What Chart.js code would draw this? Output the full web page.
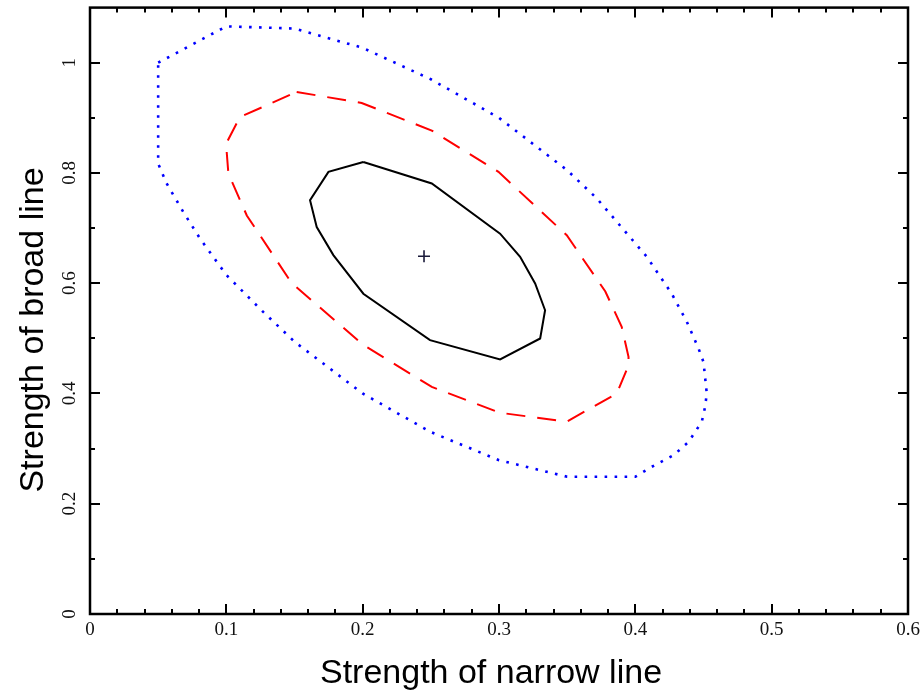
<!DOCTYPE html>
<html>
<head>
<meta charset="utf-8">
<script src="https://cdn.jsdelivr.net/npm/chart.js@4/dist/chart.umd.min.js"></script>
<style>
  html, body { margin: 0; padding: 0; background: #fff; }
  canvas { display: block; }
</style>
</head>
<body>
<canvas id="c" width="923" height="691"></canvas>
<script>
// Axis ticks and labels
const xTickValues = [0, 0.1, 0.2, 0.3, 0.4, 0.5, 0.6];
const xTickLabels = ['0', '0.1', '0.2', '0.3', '0.4', '0.5', '0.6'];
const yTickValues = [0, 0.2, 0.4, 0.6, 0.8, 1.0];
const yTickLabels = ['0', '0.2', '0.4', '0.6', '0.8', '1'];
const xTitle = 'Strength of narrow line';
const yTitle = 'Strength of broad line';

// Best-fit point
const bestX = [0.245];
const bestY = [0.649];

// Inner confidence contour (solid)
const innerX = [0.2005, 0.2507, 0.3008, 0.3155, 0.3265, 0.3338, 0.3302, 0.3008, 0.2494, 0.2005, 0.1785, 0.1663, 0.1614, 0.1749, 0.2005];
const innerY = [0.820, 0.781, 0.690, 0.648, 0.5995, 0.551, 0.4998, 0.4617, 0.4967, 0.581, 0.651, 0.702, 0.7506, 0.802, 0.820];

// Middle confidence contour (dashed)
const middleX = [0.1516, 0.1993, 0.2507, 0.2996, 0.3497, 0.378, 0.390, 0.395, 0.395, 0.3864, 0.3497, 0.3008, 0.2507, 0.2005, 0.148, 0.115, 0.1015, 0.0998, 0.110, 0.1516];
const middleY = [0.947, 0.927, 0.877, 0.802, 0.687, 0.585, 0.521, 0.4665, 0.451, 0.400, 0.349, 0.365, 0.412, 0.488, 0.600, 0.723, 0.799, 0.853, 0.9015, 0.947];

// Outer confidence contour (dotted)
const outerX = [0.050, 0.100, 0.150, 0.200, 0.250, 0.300, 0.350, 0.3717, 0.4084, 0.4267, 0.4378, 0.4463, 0.450, 0.4524, 0.4512, 0.4488, 0.439, 0.428, 0.412, 0.400, 0.350, 0.335, 0.300, 0.250, 0.200, 0.150, 0.127, 0.100, 0.0807, 0.0685, 0.0562, 0.050, 0.050];
const outerY = [1.000, 1.066, 1.062, 1.027, 0.970, 0.900, 0.805, 0.754, 0.648, 0.581, 0.530, 0.482, 0.457, 0.400, 0.376, 0.349, 0.312, 0.288, 0.267, 0.249, 0.249, 0.258, 0.279, 0.330, 0.400, 0.494, 0.548, 0.615, 0.681, 0.729, 0.781, 0.817, 1.000];

const toPoints = (xs, ys) => xs.map((v, i) => ({ x: v, y: ys[i] }));

const X_MIN = 0, X_MAX = 0.6, X_MINOR = 0.02;
const Y_MIN = 0, Y_MAX = 1.1, Y_MINOR = 0.1;

// Frame with inward major/minor ticks on all four sides, plus axis titles
const framePlugin = {
  id: 'frame',
  afterDraw(chart) {
    const { ctx, chartArea: a, scales: { x, y } } = chart;
    ctx.save();
    ctx.strokeStyle = '#000';
    ctx.lineWidth = 2;
    const isMajor = (v, list) => list.some(m => Math.abs(m - v) < 1e-6);

    ctx.beginPath();
    for (let i = 1; X_MIN + i * X_MINOR < X_MAX - 1e-6; i++) {
      const v = X_MIN + i * X_MINOR;
      const len = isMajor(v, xTickValues) ? 10 : 5;
      const px = Math.round(x.getPixelForValue(v));
      ctx.moveTo(px, a.bottom); ctx.lineTo(px, a.bottom - len);
      ctx.moveTo(px, a.top); ctx.lineTo(px, a.top + len);
    }
    for (let i = 1; Y_MIN + i * Y_MINOR < Y_MAX - 1e-6; i++) {
      const v = Y_MIN + i * Y_MINOR;
      const len = isMajor(v, yTickValues) ? 10 : 5;
      const py = Math.round(y.getPixelForValue(v));
      ctx.moveTo(a.left, py); ctx.lineTo(a.left + len, py);
      ctx.moveTo(a.right, py); ctx.lineTo(a.right - len, py);
    }
    ctx.stroke();

    ctx.lineWidth = 2.5;
    ctx.strokeRect(a.left, a.top, a.right - a.left, a.bottom - a.top);

    ctx.fillStyle = '#000';
    ctx.font = '34px "Liberation Sans", Arial, sans-serif';
    ctx.textAlign = 'center';
    ctx.textBaseline = 'alphabetic';
    ctx.fillText(xTitle, 491, 683);
    ctx.translate(43, 330);
    ctx.rotate(-Math.PI / 2);
    ctx.fillText(yTitle, 0, 0);
    ctx.restore();
  }
};

const tickFont = { family: '"Liberation Serif", "Times New Roman", serif', size: 19 };

new Chart(document.getElementById('c'), {
  type: 'scatter',
  data: {
    datasets: [
      {
        data: toPoints(outerX, outerY),
        showLine: true, borderColor: '#0000ff', borderWidth: 2.6,
        borderDash: [2.6, 7.4], pointRadius: 0, tension: 0, fill: false
      },
      {
        data: toPoints(middleX, middleY),
        showLine: true, borderColor: '#ff0000', borderWidth: 2,
        borderDash: [19, 12], pointRadius: 0, tension: 0, fill: false
      },
      {
        data: toPoints(innerX, innerY),
        showLine: true, borderColor: '#000000', borderWidth: 2,
        pointRadius: 0, tension: 0, fill: false
      },
      {
        data: toPoints(bestX, bestY),
        showLine: false, pointStyle: 'cross', pointRadius: 6,
        borderColor: '#1a1a3a', borderWidth: 1.6
      }
    ]
  },
  options: {
    responsive: false,
    animation: false,
    layout: { padding: { left: 0, right: 15, top: 7, bottom: 0 } },
    plugins: { legend: { display: false }, tooltip: { enabled: false } },
    scales: {
      x: {
        type: 'linear', min: X_MIN, max: X_MAX,
        grid: { display: false, drawTicks: false },
        border: { display: false },
        afterBuildTicks: s => { s.ticks = xTickValues.map(v => ({ value: v })); },
        afterFit: s => { s.height = 77; s.paddingLeft = 0; s.paddingRight = 0; },
        ticks: {
          padding: 5, maxRotation: 0, minRotation: 0, color: '#111',
          font: tickFont,
          callback: (v, i) => xTickLabels[i]
        }
      },
      y: {
        type: 'linear', min: Y_MIN, max: Y_MAX,
        grid: { display: false, drawTicks: false },
        border: { display: false },
        afterBuildTicks: s => { s.ticks = yTickValues.map(v => ({ value: v })); },
        afterFit: s => { s.width = 90; s.paddingTop = 0; s.paddingBottom = 0; },
        ticks: {
          padding: 8, minRotation: 90, maxRotation: 90, crossAlign: 'center',
          color: '#111', font: tickFont,
          callback: (v, i) => yTickLabels[i]
        }
      }
    }
  },
  plugins: [framePlugin]
});
</script>
</body>
</html>
